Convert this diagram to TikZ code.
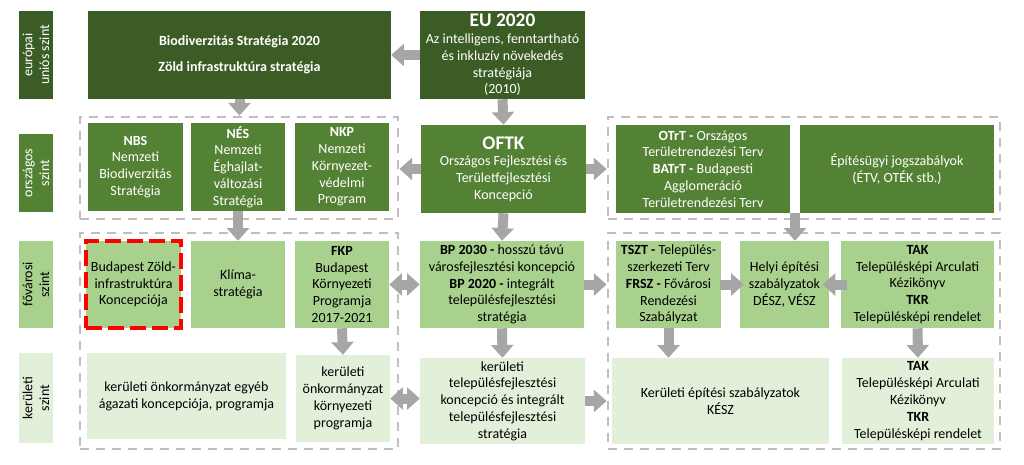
\documentclass[tikz,border=0pt]{standalone}
\usepackage{fontspec}
\setmainfont{Carlito}
\usetikzlibrary{arrows.meta}
\definecolor{gA}{HTML}{3B5D25}
\definecolor{gB}{HTML}{548235}
\definecolor{gC}{HTML}{A9D18E}
\definecolor{gD}{HTML}{E2F0D9}
\definecolor{arrgray}{HTML}{A6A6A6}
\definecolor{contgray}{HTML}{BFBFBF}
\newcommand\bx[7]{\node[#6, minimum width={(#4-#2)*0.75pt}, minimum height={(#5-#3)*0.75pt}] (#1) at ({(#2+#4)/2},{(#3+#5)/2}) {#7};}
\newcommand\lab[7]{\node[#6, rotate=90, minimum width={(#5-#3)*0.75pt}, minimum height={(#4-#2)*0.75pt}] (#1) at ({(#2+#4)/2},{(#3+#5)/2}) {#7};}
\newcommand\bigt[1]{{\fontsize{14.5}{16}\selectfont\bfseries #1}}
\begin{document}
\begin{tikzpicture}[x=0.75pt,y=-0.75pt,
  every node/.style={font=\fontsize{10.5}{12.6}\selectfont, inner sep=0pt, align=center},
  bA/.style={fill=gA,text=white},
  bB/.style={fill=gB,text=white},
  bC/.style={fill=gC,text=black},
  bD/.style={fill=gD,text=black},
  cont/.style={draw=contgray, line width=2.2pt, dash pattern=on 7pt off 5pt},
  reddash/.style={draw=red, line width=3.2pt, dash pattern=on 12pt off 4.5pt},
  garrow/.style={draw=arrgray, line width=7.5pt, -{Triangle[width=17pt,length=9.5pt,line width=0pt]}},
  gdarrow/.style={draw=arrgray, line width=7.5pt, {Triangle[width=17pt,length=9.5pt,line width=0pt]}-{Triangle[width=17pt,length=9.5pt,line width=0pt]}}
]
\useasboundingbox (0,0) rectangle (1024,464);
% containers
\bx{lc2}{80}{117}{398}{219}{cont}{}
\bx{rc2}{608}{117}{1000}{219}{cont}{}
\bx{lc3}{80}{233}{398}{449}{cont}{}
\bx{rc3}{608}{233}{1000}{449}{cont}{}
% row 1
\lab{L1}{19}{11}{53}{99}{bA}{európai\\uniós szint}
\bx{bio}{88}{11}{391}{99}{bA}{\textbf{Biodiverzitás Stratégia 2020}\\[7pt]\textbf{Zöld infrastruktúra stratégia}}
\bx{eu}{420}{11}{585}{99}{bA}{\bigt{EU 2020}\\Az intelligens, fenntartható\\és inkluzív növekedés\\stratégiája\\(2010)}
% row 2
\lab{L2}{19}{134}{53}{212}{bB}{országos\\szint}
\bx{nbs}{88}{123}{183}{211}{bB}{\textbf{NBS}\\Nemzeti\\Biodiverzitás\\Stratégia}
\bx{nes}{191}{123}{285}{211}{bB}{\textbf{NÉS}\\Nemzeti\\Éghajlat-\\változási\\Stratégia}
\bx{nkp}{295}{123}{389}{211}{bB}{\textbf{NKP}\\Nemzeti\\Környezet-\\védelmi\\Program}
\bx{oftk}{421}{125}{586}{213}{bB}{\bigt{OFTK}\\Országos Fejlesztési és\\Területfejlesztési\\Koncepció}
\bx{otrt}{616}{125}{790}{213}{bB}{\textbf{OTrT -} Országos\\Területrendezési Terv\\\textbf{BATrT -} Budapesti\\Agglomeráció\\Területrendezési Terv}
\bx{etv}{800}{125}{994}{213}{bB}{Építésügyi jogszabályok\\(ÉTV, OTÉK stb.)}
% row 3
\lab{L3}{19}{241}{53}{328}{bC}{fővárosi\\szint}
\bx{bzik}{86}{241}{181}{328}{bC,reddash}{Budapest Zöld-\\infrastruktúra\\Koncepciója}
\bx{klima}{191}{241}{285}{328}{bC}{Klíma-\\stratégia}
\bx{fkp}{295}{241}{389}{328}{bC}{\textbf{FKP}\\Budapest\\Környezeti\\Programja\\2017-2021}
\bx{bp}{420}{241}{584}{328}{bC}{\textbf{BP 2030 -} hosszú távú\\városfejlesztési koncepció\\\textbf{BP 2020 -} integrált\\településfejlesztési\\stratégia}
\bx{tszt}{616}{241}{721}{328}{bC}{\textbf{TSZT -} Település-\\szerkezeti Terv\\\textbf{FRSZ -} Fővárosi\\Rendezési\\Szabályzat}
\bx{helyi}{740}{241}{829}{328}{bC}{Helyi építési\\szabályzatok\\DÉSZ, VÉSZ}
\bx{tak}{841}{241}{994}{328}{bC}{\textbf{TAK}\\Településképi Arculati\\Kézikönyv\\\textbf{TKR}\\Településképi rendelet}
% row 4
\lab{L4}{19}{353}{53}{443}{bD}{kerületi\\szint}
\bx{kegy}{87}{353}{286}{439}{bD}{kerületi önkormányzat egyéb\\ágazati koncepciója, programja}
\bx{kkor}{296}{355}{390}{442}{bD}{kerületi\\önkormányzat\\környezeti\\programja}
\bx{ktf}{420}{358}{585}{444}{bD}{kerületi\\településfejlesztési\\koncepció és integrált\\településfejlesztési\\stratégia}
\bx{kesz}{612}{358}{829}{444}{bD}{Kerületi építési szabályzatok\\KÉSZ}
\bx{tak2}{842}{358}{994}{444}{bD}{\textbf{TAK}\\Településképi Arculati\\Kézikönyv\\\textbf{TKR}\\Településképi rendelet}
% arrows
\draw[garrow] (eu.west) -- (eu.west -| bio.east);
\draw[garrow] (bio.south) -- (bio.south |- lc2.north);
\draw[garrow] (eu.south) -- (oftk.north);
\draw[garrow] (oftk.west) -- (oftk.west -| lc2.east);
\draw[garrow] (oftk.east) -- (oftk.east -| rc2.west);
\draw[garrow] (nes.south) -- (klima.north);
\draw[garrow] (oftk.south) -- (bp.north);
\coordinate (hx) at (795,213);
\draw[garrow] (hx) -- (hx |- helyi.north);
\draw[gdarrow] (fkp.east) -- (fkp.east -| bp.west);
\draw[garrow] (bp.east) -- (bp.east -| rc3.west);
\draw[garrow] ([xshift=-1pt]tszt.east) -- ([xshift=3pt]tszt.east -| helyi.west);
\draw[garrow] ([xshift=5pt]tak.west) -- ([xshift=-5pt]tak.west -| helyi.east);
\draw[garrow] (fkp.south) -- (kkor.north);
\draw[garrow] (bp.south) -- (ktf.north);
\draw[garrow] (tszt.south) -- (tszt.south |- kesz.north);
\draw[garrow] (tak.south) -- (tak2.north);
\draw[gdarrow] (kkor.east) -- (kkor.east -| ktf.west);
\draw[garrow] (ktf.east) -- (ktf.east -| rc3.west);
\end{tikzpicture}
\end{document}
